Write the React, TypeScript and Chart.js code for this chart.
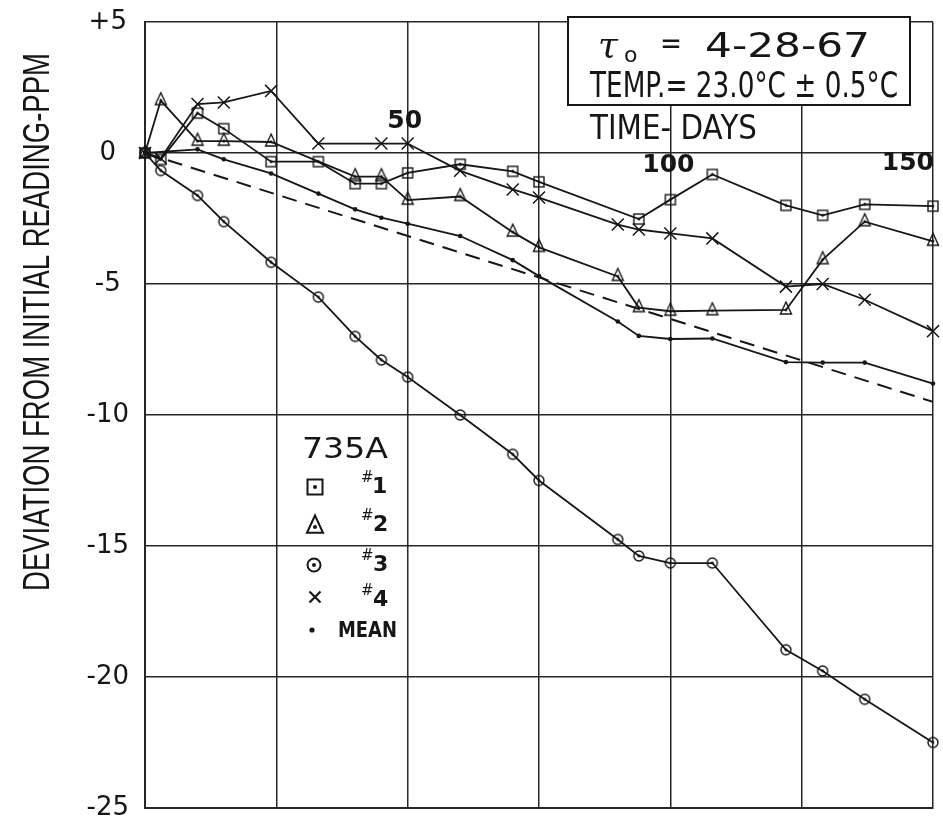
import React, { useEffect, useRef } from "react";
import { Chart, registerables } from "chart.js";

Chart.register(...registerables);

// ---------- data ----------
const xTicks = [0, 25, 50, 75, 100, 125, 150];
const yTicks = [5, 0, -5, -10, -15, -20, -25];
const yTickLabels = ["+5", "0", "-5", "-10", "-15", "-20", "-25"];
const dayLabels = ["50", "100", "150"];

// #1 (squares)
const days1 = [0, 3, 10, 15, 24, 33, 40, 45, 50, 60, 70, 75, 94, 100, 108, 122, 129, 137, 150];
const dev1 = [0, -0.25, 1.52, 0.93, -0.33, -0.33, -1.17, -1.17, -0.76, -0.43, -0.7, -1.1, -2.52, -1.78, -0.82, -2.0, -2.38, -1.96, -2.03];

// #2 (triangles)
const days2 = [0, 3, 10, 15, 24, 40, 45, 50, 60, 70, 75, 90, 94, 100, 108, 122, 129, 137, 150];
const dev2 = [0, 2.0, 0.45, 0.45, 0.42, -0.9, -0.9, -1.8, -1.66, -3.02, -3.6, -4.71, -5.9, -6.04, -6.02, -5.99, -4.07, -2.62, -3.37];

// #3 (circles)
const days3 = [0, 3, 10, 15, 24, 33, 40, 45, 50, 60, 70, 75, 90, 94, 100, 108, 122, 129, 137, 150];
const dev3 = [0, -0.67, -1.62, -2.62, -4.17, -5.5, -7.0, -7.9, -8.55, -10.0, -11.5, -12.5, -14.75, -15.38, -15.65, -15.65, -18.96, -19.77, -20.85, -22.5];

// #4 (x)
const days4 = [0, 3, 10, 15, 24, 33, 45, 50, 60, 70, 75, 90, 94, 100, 108, 122, 129, 137, 150];
const dev4 = [0, -0.2, 1.87, 1.93, 2.37, 0.36, 0.36, 0.36, -0.68, -1.39, -1.7, -2.73, -2.92, -3.07, -3.26, -5.1, -5.0, -5.6, -6.8];

// mean (dots)
const daysM = [0, 10, 15, 24, 33, 40, 45, 50, 60, 70, 75, 90, 94, 100, 108, 122, 129, 137, 150];
const devM = [0, 0.14, -0.24, -0.78, -1.55, -2.15, -2.47, -2.7, -3.17, -4.09, -4.7, -6.43, -6.98, -7.1, -7.08, -7.98, -8.0, -8.0, -8.8];

// dashed trend
const daysT = [0, 150];
const devT = [0, -9.5];

// ---------- styling ----------
const INK = "#161616";
const GRID = "#262626";

type Kind = "square" | "triangle" | "circle" | "x" | "dot";

function drawMarker(g: CanvasRenderingContext2D, kind: Kind, cx: number, cy: number, size: number, lw: number, dotR: number) {
  g.save();
  g.strokeStyle = INK;
  g.fillStyle = INK;
  g.lineWidth = lw;
  if (kind === "square") {
    g.strokeRect(cx - size / 2, cy - size / 2, size, size);
  } else if (kind === "triangle") {
    const h = size * 1.08;
    g.beginPath();
    g.moveTo(cx, cy - (2 * h) / 3);
    g.lineTo(cx + size / 2, cy + h / 3);
    g.lineTo(cx - size / 2, cy + h / 3);
    g.closePath();
    g.stroke();
  } else if (kind === "circle") {
    g.beginPath();
    g.arc(cx, cy, size / 2, 0, Math.PI * 2);
    g.stroke();
  } else if (kind === "x") {
    const r = size / 2;
    g.beginPath();
    g.moveTo(cx - r, cy - r);
    g.lineTo(cx + r, cy + r);
    g.moveTo(cx + r, cy - r);
    g.lineTo(cx - r, cy + r);
    g.stroke();
  }
  if (kind !== "x") {
    g.beginPath();
    g.arc(cx, cy, dotR, 0, Math.PI * 2);
    g.fill();
  }
  g.restore();
}

function markerCanvas(kind: Kind, size: number, lw: number, dotR: number): HTMLCanvasElement {
  const c = document.createElement("canvas");
  const dim = Math.ceil(size * 1.6 + 4);
  c.width = dim;
  c.height = dim;
  const g = c.getContext("2d")!;
  drawMarker(g, kind, dim / 2, dim / 2, size, lw, dotR);
  return c;
}

function fitText(ctx: CanvasRenderingContext2D, text: string, x: number, y: number, w: number, font: string, align: "left" | "center" | "right" = "left") {
  ctx.save();
  ctx.font = font;
  ctx.fillStyle = INK;
  ctx.textAlign = "left";
  ctx.textBaseline = "alphabetic";
  const m = ctx.measureText(text).width;
  const k = w / m;
  const x0 = align === "left" ? x : align === "center" ? x - w / 2 : x - w;
  ctx.translate(x0, y);
  ctx.scale(k, 1);
  ctx.fillText(text, 0, 0);
  ctx.restore();
}

function plainText(ctx: CanvasRenderingContext2D, text: string, x: number, y: number, font: string, align: CanvasTextAlign = "left") {
  ctx.save();
  ctx.font = font;
  ctx.fillStyle = INK;
  ctx.textAlign = align;
  ctx.textBaseline = "alphabetic";
  ctx.fillText(text, x, y);
  ctx.restore();
}

const annotations = {
  id: "annotations",
  afterDraw(chart: any) {
    const ctx: CanvasRenderingContext2D = chart.ctx;
    const xs = chart.scales.x;
    const ys = chart.scales.y;

    // y-axis title (rotated)
    ctx.save();
    ctx.translate(36, 322);
    ctx.rotate(-Math.PI / 2);
    fitText(ctx, "DEVIATION FROM INITIAL READING-PPM", 0, 13, 538, "36px 'Liberation Sans', 'DejaVu Sans', sans-serif", "center");
    ctx.restore();

    // day labels inside the plot
    const y0 = ys.getPixelForValue(0);
    plainText(ctx, dayLabels[0], xs.getPixelForValue(50) - 3, y0 - 25, "bold 25px 'DejaVu Sans'", "center");
    plainText(ctx, dayLabels[1], xs.getPixelForValue(100) - 2, y0 + 19, "bold 25px 'DejaVu Sans'", "center");
    plainText(ctx, dayLabels[2], xs.getPixelForValue(150) + 1, y0 + 17, "bold 25px 'DejaVu Sans'", "right");

    // info box
    ctx.save();
    ctx.fillStyle = "#ffffff";
    ctx.fillRect(568, 17, 342, 88);
    ctx.strokeStyle = INK;
    ctx.lineWidth = 2;
    ctx.strokeRect(568, 17, 342, 88);
    ctx.restore();
    plainText(ctx, "τ", 598, 57, "italic 36px 'DejaVu Serif'");
    plainText(ctx, "o", 624, 62, "22px 'DejaVu Sans'");
    fitText(ctx, "=", 660, 53, 22, "30px 'DejaVu Sans'");
    fitText(ctx, "4-28-67", 705, 57, 165, "34px 'DejaVu Sans'");
    fitText(ctx, "TEMP.= 23.0°C ± 0.5°C", 590, 97, 308, "36px 'DejaVu Sans'");
    fitText(ctx, "TIME- DAYS", 590, 139, 167, "34px 'DejaVu Sans'");

    // legend
    fitText(ctx, "735A", 302, 458, 86, "29px 'DejaVu Sans'");
    drawMarker(ctx, "square", 315, 487, 15, 2, 2);
    drawMarker(ctx, "triangle", 315, 527, 16, 2, 2);
    drawMarker(ctx, "circle", 314, 565, 13, 2, 2);
    drawMarker(ctx, "x", 315, 597, 11, 2.2, 0);
    ctx.save();
    ctx.fillStyle = INK;
    ctx.beginPath();
    ctx.arc(312, 630, 2.6, 0, Math.PI * 2);
    ctx.fill();
    ctx.restore();
    const hashFont = "15px 'DejaVu Sans'";
    const numFont = "bold 22px 'DejaVu Sans'";
    plainText(ctx, "#", 361, 482, hashFont);
    plainText(ctx, "1", 372, 493, numFont);
    plainText(ctx, "#", 361, 520, hashFont);
    plainText(ctx, "2", 373, 531, numFont);
    plainText(ctx, "#", 361, 560, hashFont);
    plainText(ctx, "3", 373, 571, numFont);
    plainText(ctx, "#", 361, 595, hashFont);
    plainText(ctx, "4", 373, 606, numFont);
    fitText(ctx, "MEAN", 338, 637, 59, "bold 22px 'DejaVu Sans'");
  },
};

function pts(days: number[], vals: number[]) {
  return days.map((d, i) => ({ x: d, y: vals[i] }));
}

export default function App() {
  const ref = useRef<HTMLCanvasElement>(null);

  useEffect(() => {
    document.body.style.margin = "0";
    const canvas = ref.current!;
    const sq = markerCanvas("square", 10, 1.4, 1.4);
    const tri = markerCanvas("triangle", 11, 1.4, 1.4);
    const circ = markerCanvas("circle", 10, 1.4, 1.4);

    const line = (label: string, data: any[], extra: any) => ({
      label,
      data,
      borderColor: INK,
      backgroundColor: INK,
      borderWidth: 1.8,
      tension: 0,
      clip: false,
      ...extra,
    });

    const chart = new Chart(canvas, {
      type: "line",
      data: {
        datasets: [
          line("#1", pts(days1, dev1), { pointStyle: sq, pointRadius: 5 }),
          line("#2", pts(days2, dev2), { pointStyle: tri, pointRadius: 5 }),
          line("#3", pts(days3, dev3), { pointStyle: circ, pointRadius: 5 }),
          line("#4", pts(days4, dev4), { pointStyle: "crossRot", pointRadius: 8.5, pointBorderWidth: 1.5, pointBorderColor: INK }),
          line("MEAN", pts(daysM, devM), { pointStyle: "circle", pointRadius: 2.3, pointBorderWidth: 0, pointBackgroundColor: INK }),
          line("trend", pts(daysT, devT), { pointRadius: 0, borderDash: [15, 9], borderWidth: 2 }),
        ],
      },
      options: {
        responsive: false,
        animation: false,
        devicePixelRatio: 1,
        layout: { padding: { top: 22, right: 6, bottom: 19, left: 0 } },
        plugins: { legend: { display: false }, tooltip: { enabled: false } },
        events: [],
        scales: {
          x: {
            type: "linear",
            min: 0,
            max: 150,
            afterBuildTicks: (s: any) => {
              s.ticks = xTicks.map((v) => ({ value: v }));
            },
            afterFit: (s: any) => {
              s.height = 0;
              s.paddingLeft = 0;
              s.paddingRight = 0;
            },
            ticks: { display: false },
            grid: { color: GRID, lineWidth: 1.5, drawTicks: false },
            border: { display: true, color: GRID, width: 2 },
          },
          y: {
            type: "linear",
            min: -25,
            max: 5,
            afterBuildTicks: (s: any) => {
              s.ticks = yTicks.map((v) => ({ value: v }));
            },
            afterFit: (s: any) => {
              s.width = 145;
              s.paddingTop = 0;
              s.paddingBottom = 0;
            },
            ticks: {
              color: INK,
              font: { family: "'DejaVu Sans'", size: 26 },
              padding: 16,
              crossAlign: "center",
              autoSkip: false,
              callback: (v: any) => {
                const i = yTicks.indexOf(Number(v));
                return i >= 0 ? yTickLabels[i] : "";
              },
            },
            grid: { color: GRID, lineWidth: 1.5, drawTicks: false },
            border: { display: true, color: GRID, width: 2 },
          },
        },
      },
      plugins: [annotations],
    } as any);

    return () => chart.destroy();
  }, []);

  return <canvas ref={ref} width={943} height={827} style={{ display: "block" }} />;
}
